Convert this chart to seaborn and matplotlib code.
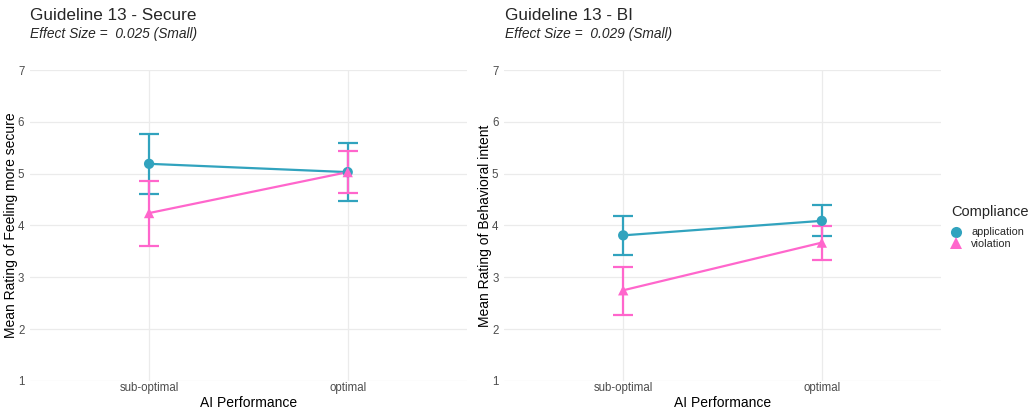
import numpy as np
import pandas as pd
import matplotlib
matplotlib.use("Agg")
import matplotlib.pyplot as plt
from matplotlib.lines import Line2D
import seaborn as sns

sns.set_theme(style="whitegrid")
plt.rcParams['font.family'] = ['Liberation Sans', 'DejaVu Sans']

# ---- data ----
performance = ["sub-optimal", "optimal"]
compliance = ["application", "violation"]

secure_app_mean = [5.19, 5.03]
secure_app_low = [4.61, 4.47]
secure_app_high = [5.76, 5.60]
secure_vio_mean = [4.24, 5.03]
secure_vio_low = [3.61, 4.63]
secure_vio_high = [4.85, 5.43]

bi_app_mean = [3.81, 4.09]
bi_app_low = [3.43, 3.79]
bi_app_high = [4.19, 4.39]
bi_vio_mean = [2.75, 3.67]
bi_vio_low = [2.27, 3.33]
bi_vio_high = [3.20, 3.99]

titles = ["Guideline 13 - Secure", "Guideline 13 - BI"]
subtitles = ["Effect Size =  0.025 (Small)", "Effect Size =  0.029 (Small)"]
ylabels = ["Mean Rating of Feeling more secure", "Mean Rating of Behavioral intent"]
yticks = [1, 2, 3, 4, 5, 6, 7]

colors = {"application": "#31A3BE", "violation": "#FF66CC"}
markers = {"application": "o", "violation": "^"}


def make_df(app_m, app_l, app_h, vio_m, vio_l, vio_h):
    rows = []
    for comp, m, l, h in [("application", app_m, app_l, app_h),
                          ("violation", vio_m, vio_l, vio_h)]:
        for p, mm, ll, hh in zip(performance, m, l, h):
            rows.append(dict(perf=p, comp=comp, mean=mm, low=ll, high=hh))
    return pd.DataFrame(rows)


dfs = [
    make_df(secure_app_mean, secure_app_low, secure_app_high,
            secure_vio_mean, secure_vio_low, secure_vio_high),
    make_df(bi_app_mean, bi_app_low, bi_app_high,
            bi_vio_mean, bi_vio_low, bi_vio_high),
]

fig = plt.figure(figsize=(10.32, 4.13), dpi=100)
fig.patch.set_facecolor("white")
ax_pos = [[0.0290, 0.0775, 0.4234, 0.753], [0.4884, 0.0775, 0.4234, 0.753]]

for i, df in enumerate(dfs):
    ax = fig.add_axes(ax_pos[i])
    ax.set_facecolor("white")
    for comp in compliance:
        sub = df[df.comp == comp]
        ax.errorbar(sub["perf"], sub["mean"],
                    yerr=[sub["mean"] - sub["low"], sub["high"] - sub["mean"]],
                    fmt="none", ecolor=colors[comp], elinewidth=1.6,
                    capsize=7, capthick=1.6, zorder=2)
    sns.lineplot(data=df, x="perf", y="mean", hue="comp", palette=colors,
                 sort=False, linewidth=1.6, legend=False, ax=ax, zorder=3)
    sns.scatterplot(data=df, x="perf", y="mean", hue="comp", style="comp",
                    palette=colors, markers=markers, s=55, linewidth=0,
                    legend=False, ax=ax, zorder=4)
    ax.set_xlim(-0.6, 1.6)
    ax.set_ylim(1, 7)
    ax.set_yticks(yticks)
    ax.set_yticklabels([str(t) for t in yticks])
    for s in ax.spines.values():
        s.set_visible(False)
    ax.grid(True, color="#EBEBEB", linewidth=0.9)
    ax.tick_params(axis="both", colors="#4D4D4D", labelsize=8.3, length=2.5,
                   width=0.6, pad=1.5, labelcolor="#4D4D4D")
    ax.tick_params(axis="y", color="#AAAAAA")
    ax.tick_params(axis="x", length=0, pad=1)
    ax.set_xlabel("AI Performance", fontsize=10, color="black", labelpad=1)
    ax.set_ylabel(ylabels[i], fontsize=10, color="black", labelpad=0)
    x0 = 0.0281 if i == 0 else 0.4884
    fig.text(x0 + 0.001, 0.963, titles[i], fontsize=12.3, ha="left", va="center")
    fig.text(x0 + 0.001, 0.918, subtitles[i], fontsize=9.9, style="italic",
             ha="left", va="center")

handles = [Line2D([0], [0], marker=markers[c], color=colors[c], linestyle="none",
                  markersize=8, markeredgewidth=0) for c in compliance]
leg = fig.legend(handles, compliance, title="Compliance", loc="upper left",
                 bbox_to_anchor=(0.914, 0.522), frameon=False, fontsize=7.8,
                 title_fontsize=10.5, handletextpad=0.9, labelspacing=0.15,
                 borderpad=0.2, handlelength=1.0)
leg._legend_box.align = "left"
leg._legend_box.sep = 6

fig.savefig("out.png", dpi=100, facecolor="white")
